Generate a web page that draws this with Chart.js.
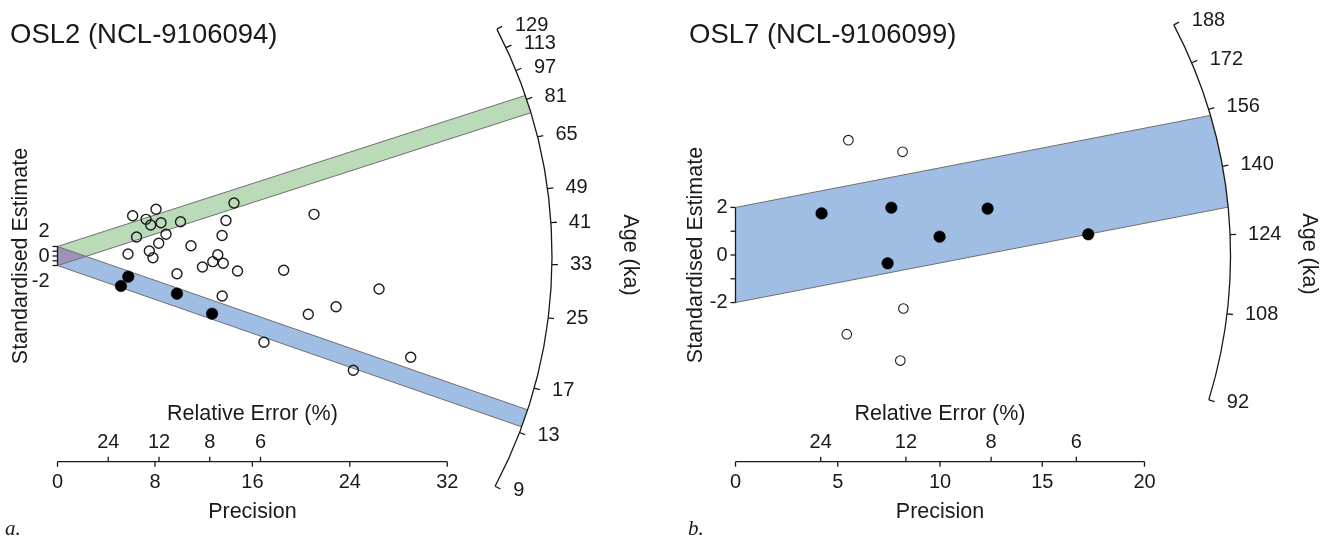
<!DOCTYPE html>
<html><head><meta charset="utf-8">
<script src="https://cdn.jsdelivr.net/npm/chart.js@4.4.0/dist/chart.umd.min.js"></script>
<style>
html,body{margin:0;padding:0;background:#fff;}
#wrap{position:relative;width:1322px;height:537px;overflow:hidden;}
canvas{position:absolute;top:0;}
</style></head><body>
<div id="wrap">
<canvas id="ca" width="661" height="537" style="left:0px"></canvas>
<canvas id="cb" width="661" height="537" style="left:661px"></canvas>
</div>
<script>
// ---------- Panel a: OSL2 ----------
const titleA = 'OSL2 (NCL-9106094)';
const panelLetterA = 'a.';
const openPrecisionA = [6.17,8.09,7.27,7.65,8.50,10.10,14.49,13.83,13.51,6.49,8.91,8.31,7.54,7.84,5.79,10.96,13.16,12.75,11.90,13.61,14.78,9.81,13.52,21.06,18.57,26.40,22.87,20.59,16.95,29.00,24.29];
const openZA =         [8.45,9.79,7.69,6.50,6.98,7.19,11.11,7.44,4.30,3.98,4.55,2.66,1.05,-0.36,0.42,2.16,0.25,-1.19,-2.31,-1.53,-3.14,-3.71,-8.39,8.74,-3.00,-6.92,-10.63,-12.22,-18.09,-21.24,-23.96];
const filledPrecisionA = [5.81,5.21,9.81,12.69];
const filledZA =         [-4.34,-6.29,-7.90,-12.10];
const refAgeA = 34.5;
const bandAgesA = [78.7, 14.2];
const ageTicksA = [9,13,17,25,33,41,49,65,81,97,113,129];
const precisionTicksA = [0,8,16,24,32];
const relErrTicksA = [24,12,8,6];
const zTicksA = [-2,-1,0,1,2];
const zLabelsA = [-2,0,2];

// ---------- Panel b: OSL7 ----------
const titleB = 'OSL7 (NCL-9106099)';
const panelLetterB = 'b.';
const openPrecisionB = [5.52,8.17,8.21,5.44,8.06];
const openZB =         [4.83,4.34,-2.25,-3.33,-4.44];
const filledPrecisionB = [4.21,7.62,12.33,9.98,7.44,17.25];
const filledZB =         [1.75,1.99,1.95,0.77,-0.35,0.87];
const refAgeB = 119.7;
const bandAgesB = [141.4];
const ageTicksB = [92,108,124,140,156,172,188];
const precisionTicksB = [0,5,10,15,20];
const relErrTicksB = [24,12,8,6];
const zTicksB = [-2,-1,0,1,2];
const zLabelsB = [-2,0,2];

const FONT = '"Liberation Sans", Arial, sans-serif';
const INK = '#1a1a1a';

function pts(xs, ys){ return xs.map((x,i)=>({x:x, y:ys[i]})); }

function makeRadialPlugin(cfg){
  function geom(chart){
    const xs=chart.scales.x, ys=chart.scales.y;
    const ox=xs.getPixelForValue(0), oy=ys.getPixelForValue(0);
    const kx=xs.getPixelForValue(1)-ox, ky=oy-ys.getPixelForValue(1);
    return {xs,ys,ox,oy,kx,ky,R:cfg.radius,z0:Math.log(cfg.refAge)};
  }
  function ageAngle(g,t){
    const s=Math.log(t)-g.z0;
    return Math.atan2(-s*g.ky, g.kx);
  }
  function bandEnds(g,t){
    const s=Math.log(t)-g.z0;
    return [2,-2].map(d=>{
      const a=g.kx*g.kx+s*s*g.ky*g.ky;
      const b=2*s*d*g.ky*g.ky;
      const c=d*d*g.ky*g.ky-g.R*g.R;
      const x=(-b+Math.sqrt(b*b-4*a*c))/(2*a);
      return {x0:g.xs.getPixelForValue(0), y0:g.ys.getPixelForValue(d),
              x1:g.xs.getPixelForValue(x), y1:g.ys.getPixelForValue(s*x+d)};
    });
  }
  function trace(ctx,g,e){
    ctx.beginPath();
    ctx.moveTo(e[0].x0,e[0].y0);
    ctx.lineTo(e[0].x1,e[0].y1);
    const a1=Math.atan2(e[0].y1-g.oy,e[0].x1-g.ox);
    const a2=Math.atan2(e[1].y1-g.oy,e[1].x1-g.ox);
    ctx.arc(g.ox,g.oy,g.R,a1,a2,false);
    ctx.lineTo(e[1].x0,e[1].y0);
    ctx.closePath();
  }
  return {
    id:'radial_'+cfg.id,
    beforeDatasetsDraw(chart){
      const ctx=chart.ctx, g=geom(chart);
      const ends=cfg.bandAges.map(t=>bandEnds(g,t));
      ctx.save();
      ends.forEach((e,i)=>{ trace(ctx,g,e); ctx.fillStyle=cfg.bandColors[i]; ctx.fill(); });
      for(let i=0;i<ends.length;i++) for(let j=i+1;j<ends.length;j++){
        ctx.save(); trace(ctx,g,ends[i]); ctx.clip();
        trace(ctx,g,ends[j]); ctx.fillStyle=cfg.overlapColor; ctx.fill();
        ctx.restore();
      }
      ctx.strokeStyle='#6e6e6e'; ctx.lineWidth=1;
      ends.forEach(e=>e.forEach(p=>{ ctx.beginPath(); ctx.moveTo(p.x0,p.y0); ctx.lineTo(p.x1,p.y1); ctx.stroke(); }));
      ctx.restore();
    },
    afterDraw(chart){
      const ctx=chart.ctx, g=geom(chart);
      ctx.save();
      ctx.strokeStyle=INK; ctx.fillStyle=INK; ctx.lineWidth=1.3;
      // ---- age arc ----
      const tmin=Math.min(...cfg.ageTicks), tmax=Math.max(...cfg.ageTicks);
      ctx.beginPath();
      ctx.arc(g.ox,g.oy,g.R,ageAngle(g,tmax),ageAngle(g,tmin),false);
      ctx.stroke();
      ctx.font='20px '+FONT; ctx.textAlign='left'; ctx.textBaseline='middle';
      cfg.ageTicks.forEach(t=>{
        const a=ageAngle(g,t), c=Math.cos(a), s=Math.sin(a);
        const px=g.ox+g.R*c, py=g.oy+g.R*s;
        ctx.beginPath(); ctx.moveTo(px,py); ctx.lineTo(px+6*c,py+6*s); ctx.stroke();
        ctx.fillText(String(t), px+18, py+s*9);
      });
      // Age title
      ctx.save();
      ctx.translate(g.ox+g.R+78, g.oy-1);
      ctx.rotate(Math.PI/2);
      ctx.font='21.5px '+FONT; ctx.textAlign='center'; ctx.textBaseline='middle';
      ctx.fillText('Age (ka)',0,0);
      ctx.restore();
      // ---- z axis at x=0 ----
      const yTop=g.ys.getPixelForValue(Math.max(...cfg.zTicks));
      const yBot=g.ys.getPixelForValue(Math.min(...cfg.zTicks));
      ctx.beginPath(); ctx.moveTo(g.ox,yTop); ctx.lineTo(g.ox,yBot); ctx.stroke();
      cfg.zTicks.forEach(v=>{
        const y=g.ys.getPixelForValue(v);
        ctx.beginPath(); ctx.moveTo(g.ox,y); ctx.lineTo(g.ox-5,y); ctx.stroke();
      });
      ctx.font='20px '+FONT; ctx.textAlign='right'; ctx.textBaseline='middle';
      cfg.zLabels.forEach(v=>{
        const off=Math.sign(v)*Math.max(Math.abs(v)*g.ky, 25);
        ctx.fillText(String(v), g.ox-8, g.oy-off);
      });
      ctx.save();
      ctx.translate(cfg.zTitleX, g.oy);
      ctx.rotate(-Math.PI/2);
      ctx.font='21.5px '+FONT; ctx.textAlign='center'; ctx.textBaseline='middle';
      ctx.fillText('Standardised Estimate',0,0);
      ctx.restore();
      // ---- precision axis ----
      const ay=cfg.axisY;
      const pmax=Math.max(...cfg.precisionTicks);
      const xL=g.xs.getPixelForValue(0), xR=g.xs.getPixelForValue(pmax);
      ctx.beginPath(); ctx.moveTo(xL,ay); ctx.lineTo(xR,ay); ctx.stroke();
      ctx.font='20px '+FONT; ctx.textAlign='center'; ctx.textBaseline='middle';
      cfg.precisionTicks.forEach(v=>{
        const x=g.xs.getPixelForValue(v);
        ctx.beginPath(); ctx.moveTo(x,ay); ctx.lineTo(x,ay+5); ctx.stroke();
        ctx.fillText(String(v), x, ay+21);
      });
      cfg.relErrTicks.forEach(v=>{
        const x=g.xs.getPixelForValue(100/v);
        ctx.beginPath(); ctx.moveTo(x,ay); ctx.lineTo(x,ay-5); ctx.stroke();
        ctx.fillText(String(v), x, ay-19);
      });
      const xc=(xL+xR)/2;
      ctx.font='21.5px '+FONT;
      ctx.fillText('Relative Error (%)', xc, ay-48);
      ctx.fillText('Precision', xc, ay+50);
      // ---- title & letter ----
      ctx.textAlign='left'; ctx.textBaseline='alphabetic';
      ctx.font='27.5px '+FONT;
      ctx.fillText(cfg.title, cfg.titleX, 43);
      ctx.font='italic 21px "Liberation Serif", "DejaVu Serif", serif';
      ctx.fillText(cfg.letter, cfg.letterX, 535);
      ctx.restore();
    }
  };
}

function makeChart(canvasId, cfg){
  const W=661, H=537;
  const pad={
    left: cfg.ox - cfg.xmin*cfg.kx,
    right: W - (cfg.ox + cfg.xmax*cfg.kx),
    top: cfg.oy - cfg.ymax*cfg.ky,
    bottom: H - (cfg.oy - cfg.ymin*cfg.ky)
  };
  return new Chart(document.getElementById(canvasId), {
    type:'scatter',
    data:{datasets:[
      {label:'open', data:pts(cfg.openX,cfg.openY), pointStyle:'circle', pointRadius:cfg.openR,
       pointBorderWidth:cfg.openW, borderColor:INK, pointBorderColor:INK, backgroundColor:'rgba(0,0,0,0)', pointBackgroundColor:'rgba(0,0,0,0)', clip:false},
      {label:'filled', data:pts(cfg.fillX,cfg.fillY), pointStyle:'circle', pointRadius:5.8,
       pointBorderWidth:0.5, borderColor:'#000', pointBorderColor:'#000', backgroundColor:'#000', pointBackgroundColor:'#000', clip:false}
    ]},
    options:{
      responsive:false, devicePixelRatio:1, animation:false,
      layout:{padding:pad},
      plugins:{legend:{display:false}, tooltip:{enabled:false}},
      scales:{
        x:{type:'linear', display:false, min:cfg.xmin, max:cfg.xmax},
        y:{type:'linear', display:false, min:cfg.ymin, max:cfg.ymax}
      }
    },
    plugins:[makeRadialPlugin(cfg)]
  });
}

makeChart('ca', {
  id:'a', title:titleA, titleX:10, letter:panelLetterA, letterX:5,
  openX:openPrecisionA, openY:openZA, fillX:filledPrecisionA, fillY:filledZA,
  openR:5.0, openW:1.4,
  refAge:refAgeA, bandAges:bandAgesA,
  bandColors:['rgb(186,218,184)','rgb(160,189,228)'], overlapColor:'rgb(158,146,186)',
  ageTicks:ageTicksA, precisionTicks:precisionTicksA, relErrTicks:relErrTicksA,
  zTicks:zTicksA, zLabels:zLabelsA,
  ox:57.5, oy:256, kx:12.18, ky:4.768, xmin:0, xmax:45, ymin:-50, ymax:50,
  radius:494.5, axisY:461.7, zTitleX:21
});
makeChart('cb', {
  id:'b', title:titleB, titleX:28, letter:panelLetterB, letterX:27,
  openX:openPrecisionB, openY:openZB, fillX:filledPrecisionB, fillY:filledZB,
  openR:4.8, openW:1.1,
  refAge:refAgeB, bandAges:bandAgesB,
  bandColors:['rgb(160,189,228)'], overlapColor:'rgb(158,146,186)',
  ageTicks:ageTicksB, precisionTicks:precisionTicksB, relErrTicks:relErrTicksB,
  zTicks:zTicksB, zLabels:zLabelsB,
  ox:74.5, oy:255, kx:20.45, ky:23.78, xmin:0, xmax:25, ymin:-10, ymax:10,
  radius:495, axisY:461.7, zTitleX:35
});
</script>
</body></html>
